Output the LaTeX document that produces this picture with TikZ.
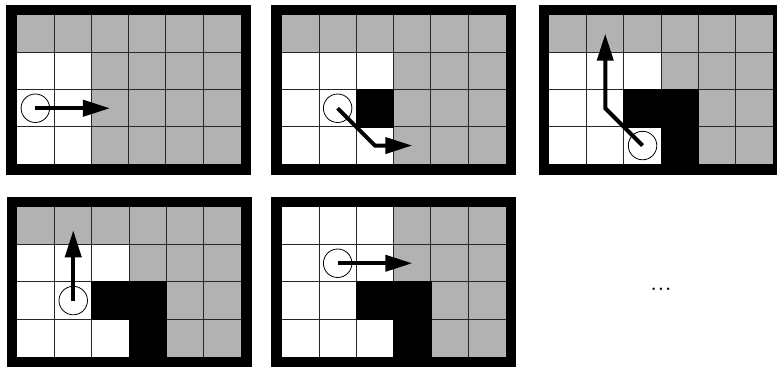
\documentclass[tikz,border=0pt]{standalone}
\usepackage{fontspec}
\usetikzlibrary{arrows.meta}
\definecolor{G}{RGB}{178,178,178}
\colorlet{W}{white}
\colorlet{K}{black}
\def\kcell{K}
\tikzset{
  gridline/.style={line width=1pt, draw=black!85},
  frame/.style={line width=10.5pt, draw=black, line join=miter},
  robot/.style={circle, draw=black, line width=0.8pt, minimum size=28.5pt, inner sep=0pt},
  move/.style={line width=4pt, line join=miter, -{Triangle[length=27pt,width=16pt]}},
  dotsstyle/.style={inner sep=0pt},
}
% #1,#2: top-left of inner grid; #3: 24 cell colours row by row
\newcommand\gridpanel[3]{%
  \begin{scope}[shift={(#1,#2)}]
    \foreach \c [count=\i from 0] in {#3} {
      \pgfmathtruncatemacro\col{mod(\i,6)}
      \pgfmathtruncatemacro\row{div(\i,6)}
      \fill[fill=\c] ({\col*37.3},{\row*37.3}) rectangle ++(37.3,37.3);
    }
    \foreach \k in {1,...,5} \draw[gridline] ({\k*37.3},0) -- ({\k*37.3},149.2);
    \foreach \k in {1,...,3} \draw[gridline] (0,{\k*37.3}) -- (223.8,{\k*37.3});
    \foreach \c [count=\i from 0] in {#3} {
      \pgfmathtruncatemacro\col{mod(\i,6)}
      \pgfmathtruncatemacro\row{div(\i,6)}
      \ifx\c\kcell
        \fill[fill=K] ({\col*37.3-0.6},{\row*37.3-0.6}) rectangle ++(38.5,38.5);
      \fi
    }
    \draw[frame] (-5.25,-5.25) rectangle (229.05,154.45);
  \end{scope}}
\begin{document}
\begin{tikzpicture}[x=1pt,y=-1pt]
\useasboundingbox (0,0) rectangle (777,367);
\fill[white] (0,0) rectangle (777,367);

% panel 1
\gridpanel{16.7}{15}{G,G,G,G,G,G, W,W,G,G,G,G, W,W,G,G,G,G, W,W,G,G,G,G}
\begin{scope}[shift={(16.7,15)}]
  \node[robot] (r1) at ({37.3*0.5},{37.3*2.5}) {};
  \coordinate (t1) at ({37.3*2.5},{37.3*2.5});
  \draw[move] (r1.center) -- (t1);
\end{scope}

% panel 2
\gridpanel{281.7}{15}{G,G,G,G,G,G, W,W,W,G,G,G, W,W,K,G,G,G, W,W,W,G,G,G}
\begin{scope}[shift={(281.7,15)}]
  \node[robot] (r2) at ({37.3*1.5},{37.3*2.5}) {};
  \coordinate (b2) at ({37.3*2.5},{37.3*3.5});
  \coordinate (t2) at ({37.3*3.5},{37.3*3.5});
  \draw[move] (r2.center) -- (b2) -- (t2);
\end{scope}

% panel 3
\gridpanel{549.3}{15}{G,G,G,G,G,G, W,W,W,G,G,G, W,W,K,K,G,G, W,W,W,K,G,G}
\begin{scope}[shift={(549.3,15)}]
  \node[robot] (r3) at ({37.3*2.5},{37.3*3.5}) {};
  \coordinate (b3) at ({37.3*1.5},{37.3*2.5});
  \coordinate (t3) at ({37.3*1.5},{37.3*0.5});
  \draw[move] (r3.center) -- (b3) -- (t3);
\end{scope}

% panel 4
\gridpanel{17.3}{207.3}{G,G,G,G,G,G, W,W,W,G,G,G, W,W,K,K,G,G, W,W,W,K,G,G}
\begin{scope}[shift={(17.3,207.3)}]
  \node[robot] (r4) at ({37.3*1.5},{37.3*2.5}) {};
  \coordinate (t4) at ({37.3*1.5},23);
  \draw[move] (r4.center) -- (t4);
\end{scope}

% panel 5
\gridpanel{281.7}{207.3}{W,W,W,G,G,G, W,W,W,G,G,G, W,W,K,K,G,G, W,W,W,K,G,G}
\begin{scope}[shift={(281.7,207.3)}]
  \node[robot] (r5) at ({37.3*1.5},{37.3*1.5}) {};
  \coordinate (t5) at ({37.3*3.5},{37.3*1.5});
  \draw[move] (r5.center) -- (t5);
\end{scope}

\node[dotsstyle] (more) at (661,289) {\fontsize{17}{20}\selectfont\bfseries .\kern2pt.\kern2pt.};
\end{tikzpicture}
\end{document}
